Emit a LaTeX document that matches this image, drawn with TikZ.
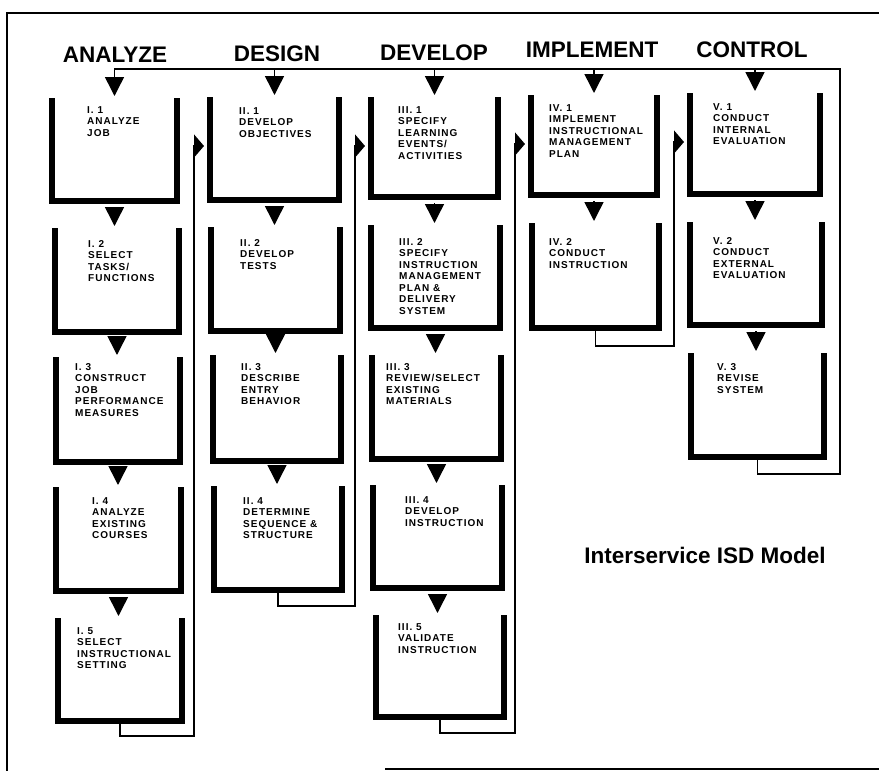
\documentclass[tikz,border=0pt]{standalone}
\usepackage{fontspec}
\setmainfont{Liberation Sans}
\newfontfamily\boxfont[LetterSpace=10]{Liberation Sans}
\usetikzlibrary{arrows.meta,fit}
\tikzset{
  ubar/.style={line width=6pt, line cap=butt, line join=miter},
  boxarea/.style={inner sep=0pt, outer sep=0pt, draw=none},
  boxtext/.style={anchor=north west, inner sep=0pt, align=left,
    font=\boxfont\bfseries\fontsize{10}{11.5}\selectfont},
  phase/.style={font=\bfseries\fontsize{22.5}{26}\selectfont, inner sep=0pt},
  titletext/.style={font=\bfseries\fontsize{22.5}{26}\selectfont, inner sep=0pt},
  flow/.style={line width=1.5pt, line join=miter, -{Triangle[length=19pt,width=19pt]}, shorten >=2pt},
  link/.style={line width=1.5pt, line join=miter, -{Triangle[length=10pt,width=23pt]}, shorten >=3pt},
  frameline/.style={line width=2pt},
}
\newcommand\ubox[8]{%
  \node[boxarea, fit={(#2,#3) (#4,#5)}] (#1) {};
  \draw[ubar] ([xshift=3pt]#1.north west) |- ([yshift=3pt]#1.south) -| ([xshift=-3pt]#1.north east);
  \node[boxtext] (#1t) at (#6,#7) {#8};
}
\begin{document}
\begin{tikzpicture}[x=1pt,y=-1pt]
\useasboundingbox (0,0) rectangle (879,771);
% frame
\draw[frameline] (879,13) -- (7,13) -- (7,771);
\draw[frameline] (385,769) -- (879,769);
% phase headings
\node[phase] (hA) at (115,55) {ANALYZE};
\node[phase] (hD) at (277,54) {DESIGN};
\node[phase] (hV) at (434,53) {DEVELOP};
\node[phase] (hI) at (592,50) {IMPLEMENT};
\node[phase] (hC) at (752,50) {CONTROL};
% boxes
\ubox{b11}{49}{98}{180}{204}{87}{106}{I. 1\\ANALYZE\\JOB}
\ubox{b12}{52}{228}{182}{335}{88}{240}{I. 2\\SELECT\\TASKS/\\FUNCTIONS}
\ubox{b13}{53}{357}{183}{465}{75}{363}{I. 3\\CONSTRUCT\\JOB\\PERFORMANCE\\MEASURES}
\ubox{b14}{53}{487}{184}{594}{92}{497}{I. 4\\ANALYZE\\EXISTING\\COURSES}
\ubox{b15}{55}{618}{185}{724}{77}{627}{I. 5\\SELECT\\INSTRUCTIONAL\\SETTING}
\ubox{b21}{207}{97}{342}{203}{239}{107}{II. 1\\DEVELOP\\OBJECTIVES}
\ubox{b22}{208}{227}{343}{334}{240}{239}{II. 2\\DEVELOP\\TESTS}
\ubox{b23}{210}{355}{344}{464}{241}{363}{II. 3\\DESCRIBE\\ENTRY\\BEHAVIOR}
\ubox{b24}{211}{486}{345}{593}{243}{497}{II. 4\\DETERMINE\\SEQUENCE \&\\STRUCTURE}
\ubox{b31}{368}{97}{501}{200}{398}{106}{III. 1\\SPECIFY\\LEARNING\\EVENTS/\\ACTIVITIES}
\ubox{b32}{368}{225}{503}{331}{399}{238}{III. 2\\SPECIFY\\INSTRUCTION\\MANAGEMENT\\PLAN \&\\DELIVERY\\SYSTEM}
\ubox{b33}{369}{355}{504}{462}{386}{363}{III. 3\\REVIEW/SELECT\\EXISTING\\MATERIALS}
\ubox{b34}{370}{485}{505}{591}{405}{496}{III. 4\\DEVELOP\\INSTRUCTION}
\ubox{b35}{373}{615}{507}{720}{398}{623}{III. 5\\VALIDATE\\INSTRUCTION}
\ubox{b41}{528}{95}{660}{198}{549}{104}{IV. 1\\IMPLEMENT\\INSTRUCTIONAL\\MANAGEMENT\\PLAN}
\ubox{b42}{529}{223}{662}{331}{549}{238}{IV. 2\\CONDUCT\\INSTRUCTION}
\ubox{b51}{687}{93}{823}{197}{713}{103}{V. 1\\CONDUCT\\INTERNAL\\EVALUATION}
\ubox{b52}{687}{222}{825}{328}{713}{237}{V. 2\\CONDUCT\\EXTERNAL\\EVALUATION}
\ubox{b53}{688}{353}{827}{460}{717}{363}{V. 3\\REVISE\\SYSTEM}
% flows within a phase
\foreach \a/\b in {b11/b12,b12/b13,b13/b14,b14/b15,b21/b22,b22/b23,b23/b24,
                   b31/b32,b32/b33,b33/b34,b34/b35,b41/b42,b51/b52,b52/b53}
  \draw[flow, shorten <=3pt] (\a.south) -- (\a.south |- \b.north);
% links between phases
\draw[link] (b15.south) -- ++(0,12) -| ([xshift=-13pt,yshift=-49pt]b21.north west) -- ([yshift=-49pt]b21.north west);
\draw[link] (b24.south) -- ++(0,13) -| ([xshift=-13pt,yshift=-49pt]b31.north west) -- ([yshift=-49pt]b31.north west);
\draw[link] (b35.south) -- ++(0,13) -| ([xshift=-13pt,yshift=-49pt]b41.north west) -- ([yshift=-49pt]b41.north west);
\draw[link] (b42.south) -- ++(0,15) -| ([xshift=-13pt,yshift=-49pt]b51.north west) -- ([yshift=-49pt]b51.north west);
% feedback loop
\coordinate (fb) at (840,69);
\draw[flow] (b53.south) -- ++(0,14) -| (fb) -| (b11.north);
\foreach \b in {b21,b31,b41,b51}
  \draw[flow] (\b.north |- fb) -- (\b.north);
% title
\node[titletext] (title) at (705,555) {Interservice ISD Model};
\end{tikzpicture}
\end{document}
